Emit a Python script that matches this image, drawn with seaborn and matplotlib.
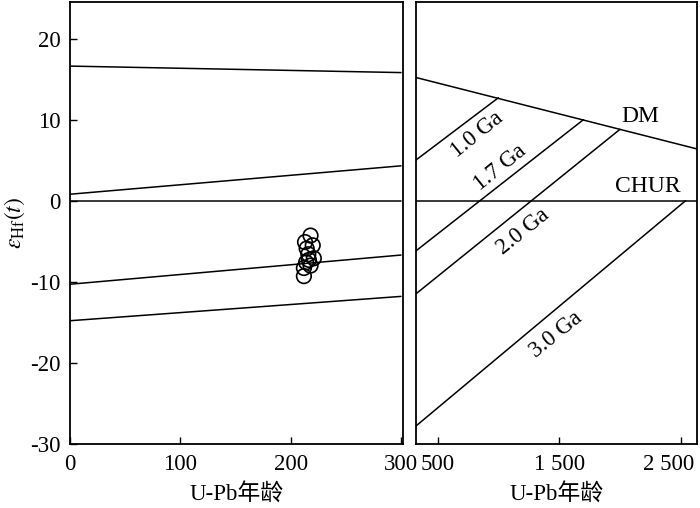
import matplotlib
matplotlib.use("Agg")
import matplotlib.pyplot as plt
import matplotlib.transforms as mtransforms
import seaborn as sns

# Zircon U-Pb age vs epsilon Hf(t) data
zircon_age = [218, 213, 214.5, 220, 216, 221, 214, 218, 212, 212, 216.5]
zircon_ehf = [-4.3, -5.1, -5.9, -5.5, -6.6, -7.1, -7.6, -8.0, -8.3, -9.3, -7.3]

# reference lines in the left panel (0-300 Ma)
left_x = [0, 300]
left_lines = [
    [16.6, 15.8],
    [0.8, 4.3],
    [0.0, 0.0],
    [-10.3, -6.7],
    [-14.8, -11.8],
]

# right panel: DM, CHUR and crustal model age lines
dm_x = [320, 2630]
dm_y = [15.2, 6.4]
chur_x = [320, 2630]
chur_y = [0, 0]
model_names = ["1.0 Ga", "1.7 Ga", "2.0 Ga", "3.0 Ga"]
model_x = [[320, 1000], [320, 1700], [320, 2000], [320, 2540]]
model_y = [[5.0, 12.7], [-6.2, 10.0], [-11.5, 8.8], [-27.8, 0.0]]
model_label_x = [821, 1010, 1200, 1471]
model_label_y = [8.2, 4.1, -3.8, -16.5]

left_ticks = [0, 100, 200, 300]
right_ticks = [500, 1500, 2500]
right_ticklabels = ["500", "1 500", "2 500"]
y_ticks = [20, 10, 0, -10, -20, -30]

sns.set_style("white")
plt.rcParams["font.family"] = ["Liberation Serif", "Noto Sans CJK SC"]
plt.rcParams["mathtext.fontset"] = "stix"
plt.rcParams["font.size"] = 16
plt.rcParams["axes.unicode_minus"] = False
for key in ["text.color", "axes.labelcolor", "xtick.color", "ytick.color"]:
    plt.rcParams[key] = "black"

fig = plt.figure(figsize=(7, 5.08), dpi=100)
ax1 = fig.add_axes([0.1, 0.126, 0.476, 0.87])
ax2 = fig.add_axes([0.594, 0.126, 0.401, 0.87])

line_kw = dict(color="black", linewidth=1.1)

# left panel
for ys in left_lines:
    sns.lineplot(x=left_x, y=ys, ax=ax1, **line_kw)
sns.scatterplot(x=zircon_age, y=zircon_ehf, ax=ax1, s=110, facecolor="none",
                edgecolor="black", linewidth=1.2, zorder=3)
ax1.set_xlim(0, 302)
ax1.set_ylim(-30, 24.5)
ax1.set_xticks(left_ticks)
ax1.set_yticks(y_ticks)
ax1.set_xlabel("U-Pb年龄", labelpad=6, fontsize=16.5)
ax1.set_ylabel(r"$\varepsilon_{\rm Hf}(t)$", labelpad=2, fontsize=17)

# right panel
sns.lineplot(x=dm_x, y=dm_y, ax=ax2, **line_kw)
sns.lineplot(x=chur_x, y=chur_y, ax=ax2, **line_kw)
for xs, ys in zip(model_x, model_y):
    sns.lineplot(x=xs, y=ys, ax=ax2, **line_kw)
for name, lx, ly in zip(model_names, model_label_x, model_label_y):
    ax2.text(lx, ly, name, rotation=39, ha="center", va="center", fontsize=16.5)
ax2.text(2171, 10.4, "DM", ha="center", va="center", fontsize=17)
ax2.text(2228, 1.8, "CHUR", ha="center", va="center", fontsize=17)
ax2.set_xlim(320, 2630)
ax2.set_ylim(-30, 24.5)
ax2.set_xticks(right_ticks)
ax2.set_xticklabels(right_ticklabels)
ax2.set_yticks([])
ax2.set_xlabel("U-Pb年龄", labelpad=6, fontsize=16.5)
ax2.set_ylabel("")

for ax in (ax1, ax2):
    for sp in ax.spines.values():
        sp.set_visible(True)
        sp.set_color("black")
        sp.set_linewidth(1.3)
    ax.tick_params(direction="in", length=5, width=1.0, colors="black",
                   labelsize=16.5, pad=7, left=True, bottom=True)
    ax.grid(False)

# last tick label of right panel sits a little left so it stays in the figure
last = ax2.get_xticklabels()[-1]
last.set_transform(last.get_transform() +
                   mtransforms.ScaledTranslation(-12 / 100, 0, fig.dpi_scale_trans))

fig.savefig("out.png", dpi=100)
